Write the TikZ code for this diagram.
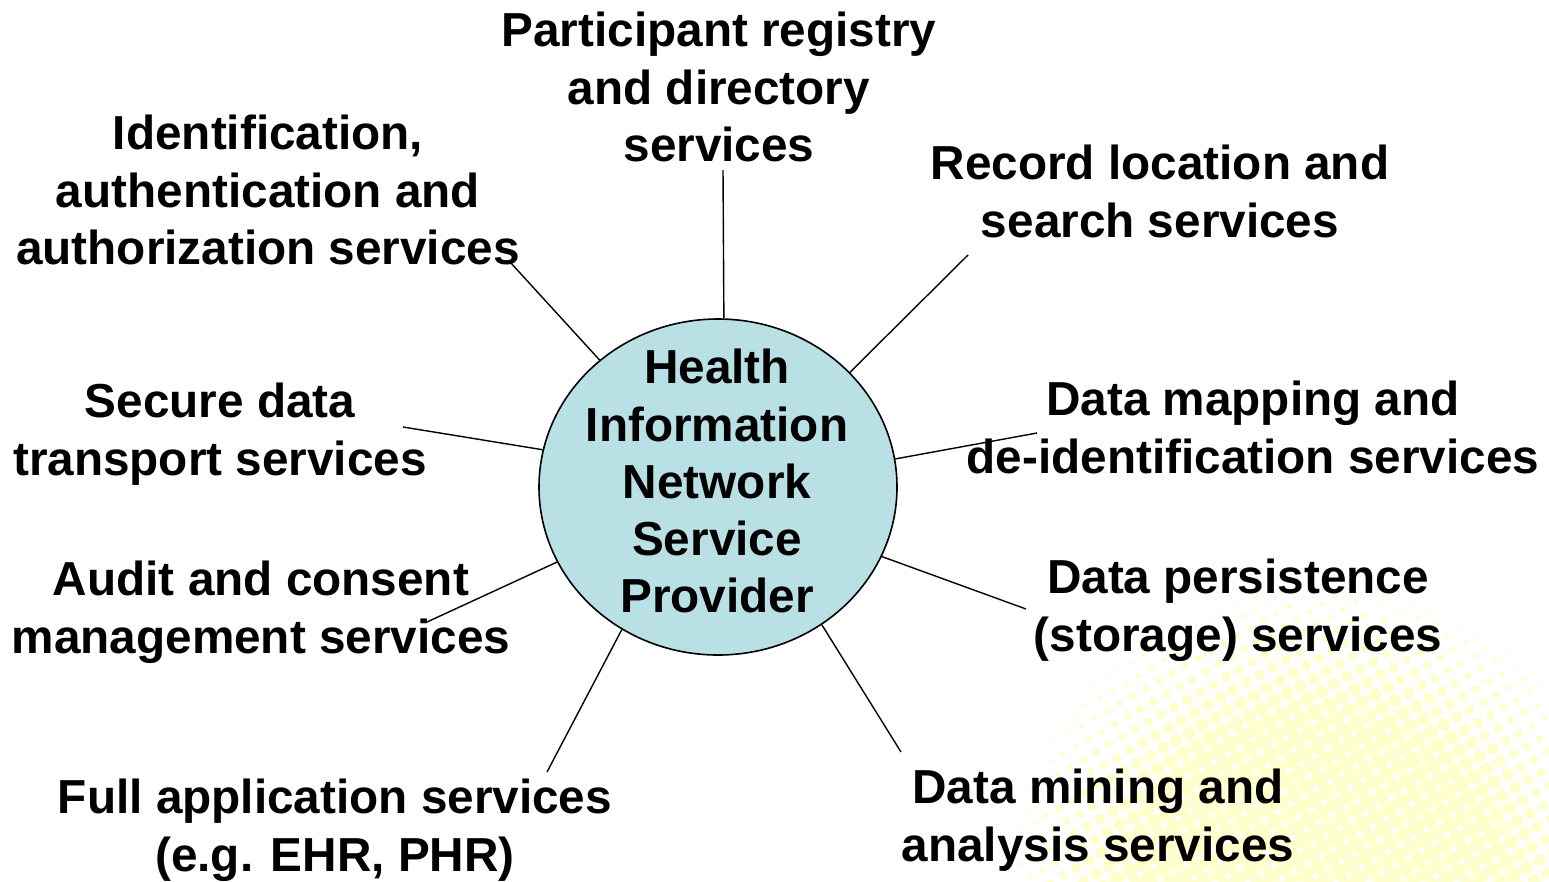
\documentclass[tikz,border=0pt]{standalone}
\usepackage{fontspec}
\setmainfont{Liberation Sans}
\usetikzlibrary{shapes.geometric}
\definecolor{hubfill}{RGB}{185,224,228}
\definecolor{dotcol}{RGB}{255,255,206}
\tikzset{
  lbl/.style={anchor=north, align=center, inner sep=0pt,
    font=\fontsize{47.7}{57.3}\selectfont\bfseries},
  conn/.style={draw=black, line width=1.4pt},
  hubstyle/.style={draw=black, line width=1.6pt, fill=hubfill, ellipse,
    minimum width=358pt, minimum height=336pt, inner sep=0pt}
}
\begin{document}
\begin{tikzpicture}[x=1pt,y=-1pt]
\useasboundingbox (0,0) rectangle (1549,881);
\fill[white] (0,0) rectangle (1549,881);
% halftone background
\begin{scope}
\clip (0,0) rectangle (1549,881);
\foreach \i in {-26,...,26}{
  \foreach \j in {-26,...,26}{
    \pgfmathsetmacro\px{1320+\i*13+\j*7.5}
    \pgfmathsetmacro\py{900-\i*7.5+\j*13}
    \pgfmathsetmacro\dd{15*sqrt(\i*\i+\j*\j)}
    \pgfmathsetmacro\rr{min(8.2,0.052*(340-\dd))}
    \ifdim\rr pt>0.4pt
      \fill[dotcol] (\px,\py) circle (\rr);
    \fi
  }
}
\end{scope}
% hub
\node[hubstyle] (hub) at (718,487) {};
\node[lbl] (hubtext) at (717,349) {Health\\Information\\Network\\Service\\Provider};
% labels
\node[lbl] (reg) at (719,12) {Participant registry\\and directory\\services};
\node[lbl] (ident) at (268,115) {Identification,\\authentication and\\authorization services};
\node[lbl] (rec) at (1160,145) {Record location and\\search services};
\node[lbl] (sec) at (220,383) {Secure data\\transport services};
\node[lbl] (map) at (1253,381) {Data mapping and\\de-identification services};
\node[lbl] (aud) at (261,561) {Audit and consent\\management services};
\node[lbl] (pers) at (1238,559) {Data persistence\\(storage) services};
\node[lbl] (full) at (335,779) {Full application services\\(e.g. EHR, PHR)};
\node[lbl] (mine) at (1098,769) {Data mining and\\analysis services};
% free ends of connectors
\coordinate (creg) at (723,170);
\coordinate (cident) at (510,262);
\coordinate (crec) at (968,255);
\coordinate (csec) at (403,427);
\coordinate (cmap) at (1037,433);
\coordinate (caud) at (427,622);
\coordinate (cpers) at (1026,609);
\coordinate (cfull) at (547,772);
\coordinate (cmine) at (901,752);
% connectors
\draw[conn] (creg) -- (hub.88);
\draw[conn] (cident) -- (hub.133);
\draw[conn] (crec) -- (hub.41);
\draw[conn] (csec) -- (hub.168);
\draw[conn] (cmap) -- (hub.9);
\draw[conn] (caud) -- (hub.205);
\draw[conn] (cpers) -- (hub.337);
\draw[conn] (cfull) -- (hub.236);
\draw[conn] (cmine) -- (hub.307);
\end{tikzpicture}
\end{document}
